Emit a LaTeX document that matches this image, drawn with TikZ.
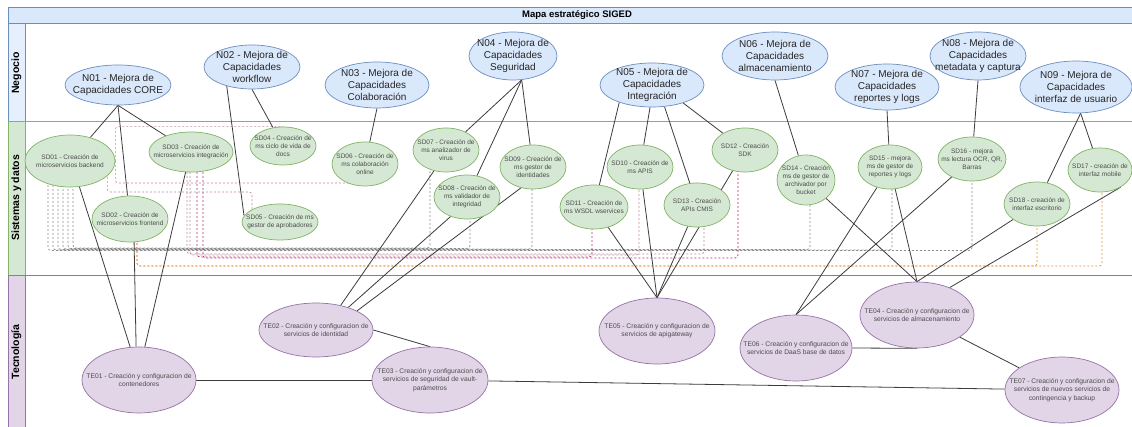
\documentclass[tikz,border=0pt]{standalone}
\usepackage{fontspec}
\setmainfont{Liberation Sans}
\usetikzlibrary{shapes.geometric,calc}
\pgfdeclarelayer{lanes}
\pgfdeclarelayer{edges}
\pgfsetlayers{lanes,edges,main}
\definecolor{nfill}{HTML}{DAE8FC}
\definecolor{ndraw}{HTML}{6C8EBF}
\definecolor{sfill}{HTML}{D5E8D4}
\definecolor{sdraw}{HTML}{82B366}
\definecolor{tfill}{HTML}{E1D5E7}
\definecolor{tdraw}{HTML}{9673A6}
\definecolor{dgrey}{HTML}{8E8E8E}
\definecolor{dpink}{HTML}{BE8AA6}
\definecolor{dmag}{HTML}{A8336C}
\definecolor{dorange}{HTML}{E8923C}
\definecolor{edgec}{HTML}{3C3C3C}
\begin{document}
\begin{tikzpicture}[x=1pt,y=-1pt,
  nn/.style={ellipse, draw=ndraw, fill=nfill, inner sep=0pt, line width=0.7pt},
  sn/.style={ellipse, draw=sdraw, fill=sfill, inner sep=0pt, line width=0.7pt},
  tn/.style={ellipse, draw=tdraw, fill=tfill, inner sep=0pt, line width=0.7pt},
  sz/.style 2 args={minimum width=#1, minimum height=#2},
  nt/.style={align=center, inner sep=0pt, font=\fontsize{10}{12}\selectfont, text=black!85},
  st/.style={align=center, inner sep=0pt, font=\fontsize{6.5}{8.2}\selectfont, text=black!70},
  tt/.style={align=center, inner sep=0pt, font=\fontsize{6.7}{8.3}\selectfont, text=black!70},
  link/.style={draw=edgec, line width=0.8pt},
  dl/.style={line width=0.7pt, dash pattern=on 2pt off 2pt, rounded corners=3pt},
  lanelbl/.style={rotate=90, font=\fontsize{10.5}{12}\selectfont\bfseries, inner sep=0pt}]
\useasboundingbox (0,0) rectangle (1132,427);

% ---------- lanes ----------
\begin{pgfonlayer}{lanes}
\fill[white] (0,0) rectangle (1132,427);
\draw[draw=ndraw, line width=0.8pt] (8,23) rectangle (1146,121);
\draw[draw=ndraw, fill=nfill!70, line width=0.8pt] (8,23) rectangle (25,121);
\draw[draw=sdraw, line width=0.8pt] (8,121) rectangle (1146,275);
\draw[draw=sdraw, fill=sfill, line width=0.8pt] (8,121) rectangle (25,275);
\draw[draw=tdraw, line width=0.8pt] (8,275) rectangle (1146,432);
\draw[draw=tdraw, fill=tfill, line width=0.8pt] (8,275) rectangle (25,432);
\draw[draw=ndraw, fill=nfill, line width=0.8pt] (8,7) rectangle (1146,23);
\end{pgfonlayer}
\node[font=\fontsize{9.5}{11}\selectfont\bfseries, inner sep=0pt] (title) at (577,15) {Mapa estratégico SIGED};
\node[lanelbl] (laneN) at (16.5,73) {Negocio};
\node[lanelbl] (laneS) at (16.5,198) {Sistemas y datos};
\node[lanelbl] (laneT) at (16.5,352) {Tecnología};

% ---------- Negocio ----------
\node[nn, sz={106pt}{40pt}, label={[nt]center:N01 - Mejora de\\Capacidades CORE}] (N01) at (118,85) {};
\node[nn, sz={96pt}{44pt}, label={[nt]center:N02 - Mejora de\\Capacidades\\workflow}] (N02) at (252,67) {};
\node[nn, sz={104pt}{46pt}, label={[nt]center:N03 - Mejora de\\Capacidades\\Colaboración}] (N03) at (377,85) {};
\node[nn, sz={88pt}{48pt}, label={[nt]center:N04 - Mejora de\\Capacidades\\Seguridad}] (N04) at (513,56) {};
\node[nn, sz={104pt}{44pt}, label={[nt]center:N05 - Mejora de\\Capacidades\\Integración}] (N05) at (652,85) {};
\node[nn, sz={106pt}{48pt}, label={[nt]center:N06 - Mejora de\\Capacidades\\almacenamiento}] (N06) at (775,56) {};
\node[nn, sz={104pt}{46pt}, label={[nt]center:N07 - Mejora de\\Capacidades\\reportes y logs}] (N07) at (887,87) {};
\node[nn, sz={96pt}{48pt}, label={[nt]center:N08 - Mejora de\\Capacidades\\metadata y captura}] (N08) at (978,56) {};
\node[nn, sz={112pt}{52pt}, label={[nt]center:N09 - Mejora de\\Capacidades\\interfaz de usuario}] (N09) at (1076,87) {};

% ---------- Sistemas y datos ----------
\node[sn, sz={90pt}{52pt}, label={[st]center:SD01 - Creación de\\microservicios backend}] (SD01) at (70,161) {};
\node[sn, sz={76pt}{46pt}, label={[st]center:SD02 - Creación de\\microservicios frontend}] (SD02) at (130,219) {};
\node[sn, sz={84pt}{40pt}, label={[st]center:SD03 - Creación de\\microservicios integración}] (SD03) at (191,152) {};
\node[sn, sz={66pt}{38pt}, label={[st]center:SD04 - Creación de\\ms ciclo de vida de\\docs}] (SD04) at (283,146) {};
\node[sn, sz={76pt}{36pt}, label={[st]center:SD05 - Creación de ms\\gestor de aprobadores}] (SD05) at (280,222) {};
\node[sn, sz={66pt}{44pt}, label={[st]center:SD06 - Creación de\\ms colaboración\\online}] (SD06) at (365,164) {};
\node[sn, sz={66pt}{44pt}, label={[st]center:SD07 - Creación de\\ms analizador de\\virus}] (SD07) at (446,150) {};
\node[sn, sz={66pt}{44pt}, label={[st]center:SD08 - Creación de\\ms validador de\\integridad}] (SD08) at (467,197) {};
\node[sn, sz={66pt}{44pt}, label={[st]center:SD09 - Creación de\\ms gestor de\\identidades}] (SD09) at (533,167) {};
\node[sn, sz={66pt}{44pt}, label={[st]center:SD10 - Creación de\\ms APIS}] (SD10) at (640,167) {};
\node[sn, sz={68pt}{44pt}, label={[st]center:SD11 - Creación de\\ms WSDL wservices}] (SD11) at (594,207) {};
\node[sn, sz={66pt}{44pt}, label={[st]center:SD12 - Creación\\SDK}] (SD12) at (745,150) {};
\node[sn, sz={66pt}{44pt}, label={[st]center:SD13 - Creación\\APIs CMIS}] (SD13) at (697,205) {};
\node[sn, sz={58pt}{50pt}, label={[st]center:SD14 - Creación\\ms de gestor de\\archivador por\\bucket}] (SD14) at (806,180) {};
\node[sn, sz={64pt}{44pt}, label={[st]center:SD15 - mejora\\ms de gestor de\\reportes y logs}] (SD15) at (890,167) {};
\node[sn, sz={68pt}{44pt}, label={[st]center:SD16 - mejora\\ms lectura OCR, QR,\\Barras}] (SD16) at (972,159) {};
\node[sn, sz={64pt}{44pt}, label={[st]center:SD17 - creación de\\interfaz mobile}] (SD17) at (1100,170) {};
\node[sn, sz={66pt}{44pt}, label={[st]center:SD18 - creación de\\interfaz escritorio}] (SD18) at (1037,204) {};

% ---------- Tecnologia ----------
\node[tn, sz={114pt}{66pt}, label={[tt]center:TE01 - Creación y configuracion de\\contenedores}] (TE01) at (139,380) {};
\node[tn, sz={114pt}{54pt}, label={[tt]center:TE02 - Creación y configuracion de\\servicios de identidad}] (TE02) at (316,330) {};
\node[tn, sz={116pt}{66pt}, label={[tt]center:TE03 - Creación y configuracion de\\servicios de seguridad de vault-\\parámetros}] (TE03) at (430,380) {};
\node[tn, sz={114pt}{66pt}, label={[tt]center:TE04 - Creación y configuracion de\\servicios de almacenamiento}] (TE04) at (917,315) {};
\node[tn, sz={116pt}{66pt}, label={[tt]center:TE05 - Creación y configuracion de\\servicios de apigateway}] (TE05) at (657,331) {};
\node[tn, sz={112pt}{66pt}, label={[tt]center:TE06 - Creación y configuracion de\\servicios de DaaS base de datos}] (TE06) at (796,348) {};
\node[tn, sz={114pt}{66pt}, label={[tt]center:TE07 - Creación y configuracion de\\servicios de nuevos servicios de\\contingencia y backup}] (TE07) at (1062,390) {};

\begin{pgfonlayer}{edges}
% dashed dependencies
\draw[dl, draw=dpink] (SD01.east) |- (SD04.north);
\draw[dl, draw=dpink] (SD01.east) |- ([yshift=-19pt]SD06.center);
\draw[dl, draw=dpink] ([xshift=-8pt]SD01.east) |- ([xshift=-28pt,yshift=30pt]SD05.center) -- ([xshift=-28pt]SD05.center);
\foreach \dx/\len/\t/\tx in {-22/89.5/SD16/0, -17/89/SD15/2, -12/88.5/SD14/4, -7/88/SD09/-1, -2/87.5/SD08/3, 3/87/SD07/-16}
  \draw[dl, draw=dgrey] ([xshift=\dx pt]SD01.center) -- ++(0,\len) -| ([xshift=\tx pt]\t.center);
\draw[dl, draw=dpink] ([xshift=-4pt]SD03.center) -- ++(0,102) -| ([xshift=7pt]SD13.center);
\draw[dl, draw=dpink] ([xshift=-1pt]SD03.center) -- ++(0,103) -| ([xshift=-1pt]SD10.center);
\draw[dl, draw=dmag] ([xshift=6pt]SD03.center) -- ++(0,105) -| ([xshift=-2pt]SD11.center);
\draw[dl, draw=dmag] ([xshift=12pt]SD03.center) -- ++(0,106) -| ([xshift=-7pt]SD12.center);
\draw[dl, draw=dorange] ([xshift=7pt]SD02.center) -- ++(0,47) -| (SD18.center);
\draw[dl, draw=dorange] ([xshift=7pt]SD02.center) -- ++(0,47) -| ([xshift=2pt]SD17.center);

% Negocio -> Sistemas
\draw[link] (N01.south) -- (SD01);
\draw[link] (N01.south) -- (SD02);
\draw[link] (N01.south) -- (SD03);
\draw[link] (N02.south) -- (SD04);
\draw[link] (N02.217) -- (SD05.170);
\draw[link] (N03.south) -- (SD06);
\draw[link] (N04.290) -- (SD07);
\draw[link] (N04.290) -- (SD08);
\draw[link] (N04.290) -- (SD09);
\draw[link] (N05.208) -- (SD11);
\draw[link] (N05.265) -- (SD10);
\draw[link] (N05.300) -- (SD13);
\draw[link] (N05.330) -- (SD12);
\draw[link] (N06.south) -- (SD14);
\draw[link] (N07.south) -- (SD15);
\draw[link] (N08.south) -- (SD16);
\draw[link] (N09.280) -- (SD18);
\draw[link] (N09.280) -- (SD17);

% Sistemas -> Tecnologia
\draw[link] (SD01.290) -- (TE01.105);
\draw[link] (SD02.280) -- (TE01.95);
\draw[link] (SD03.255) -- (TE01.80);
\draw[link] (SD07.240) -- (TE02.45);
\draw[link] (SD08.230) -- (TE02.35);
\draw[link] (SD09.240) -- (TE02.25);
\draw[link] (SD11) -- (TE05.north);
\draw[link] (SD10) -- (TE05.north);
\draw[link] (SD13) -- (TE05.north);
\draw[link] (SD12) -- (TE05.north);
\draw[link] (SD14) -- (TE04.north);
\draw[link] (SD15) -- (TE04.north);
\draw[link] (SD18) -- (TE04.north);
\draw[link] (SD17.320) -- (TE04.40);
\draw[link] (SD15) -- (TE06.north);
\draw[link] (SD16) -- (TE06.north);

% Tecnologia
\draw[link] (TE01) -- (TE03);
\draw[link] (TE02.east) -- (TE03.north);
\draw[link] (TE03) -- (TE07);
\draw[link] (TE06.east) -- (TE04.south);
\draw[link] (TE04) -- (TE07);
\end{pgfonlayer}
\end{tikzpicture}
\end{document}
